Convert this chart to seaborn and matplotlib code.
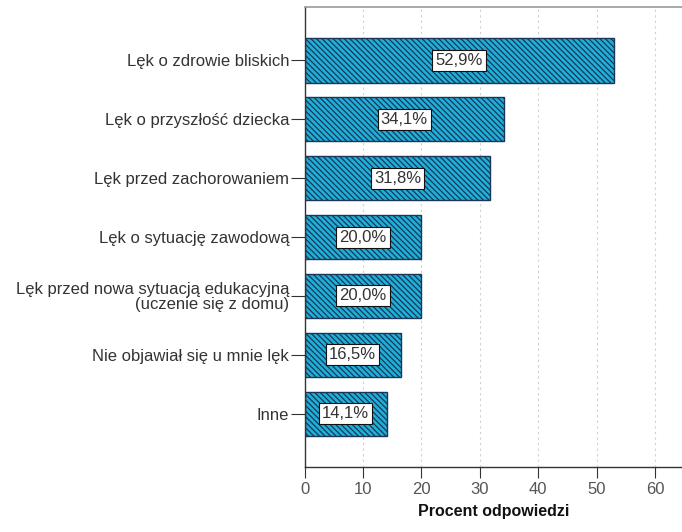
import matplotlib
matplotlib.use("Agg")
import matplotlib.pyplot as plt
import seaborn as sns
import pandas as pd

categories = [
    "Lęk o zdrowie bliskich",
    "Lęk o przyszłość dziecka",
    "Lęk przed zachorowaniem",
    "Lęk o sytuację zawodową",
    "Lęk przed nowa sytuacją edukacyjną\n(uczenie się z domu)",
    "Nie objawiał się u mnie lęk",
    "Inne",
]
values = [52.9, 34.1, 31.8, 20.0, 20.0, 16.5, 14.1]
value_labels = ["52,9%", "34,1%", "31,8%", "20,0%", "20,0%", "16,5%", "14,1%"]
x_ticks = [0, 10, 20, 30, 40, 50, 60]

sns.set_style("white")
plt.rcParams["font.family"] = ["Liberation Sans", "DejaVu Sans"]
plt.rcParams["hatch.color"] = "#1c3558"
plt.rcParams["hatch.linewidth"] = 0.9

df = pd.DataFrame({"kategoria": categories, "procent": values})

fig = plt.figure(figsize=(6.82, 5.32), dpi=100)
ax = fig.add_axes([0.4465, 0.1222, 0.5535, 0.8646])

sns.barplot(data=df, y="kategoria", x="procent", orient="h", ax=ax,
            color="#1fb0d8", width=0.76, edgecolor="#1c3558", linewidth=1.0,
            saturation=1)
for bar in ax.patches:
    bar.set_hatch("\\\\\\\\\\\\")
    bar.set_facecolor("#1fb0d8")

for i, (v, lab) in enumerate(zip(values, value_labels)):
    ax.text(v / 2, i, lab, ha="center", va="center", fontsize=12, color="#333333",
            bbox=dict(boxstyle="square,pad=0.18", facecolor="white",
                      edgecolor="#111111", linewidth=0.8))

ax.set_xlim(0, 64.6)
ax.set_ylim(6.9, -0.9)
ax.set_xticks(x_ticks)
ax.set_xticklabels([str(t) for t in x_ticks], color="#555555", fontsize=12)
for t in x_ticks[1:]:
    ax.axvline(t, color="#d0d0d0", linestyle=(0, (2, 3)), linewidth=0.8, zorder=0)

ax.set_ylabel("")
ax.set_xlabel("Procent odpowiedzi", fontsize=11.5, fontweight="bold", labelpad=5,
              color="#111111")
ax.tick_params(axis="y", length=10, width=0.8, color="#333333", labelsize=12,
               pad=1, left=True)
ax.tick_params(axis="x", length=8, width=0.8, color="#333333", pad=3, bottom=True)
for lab in ax.get_yticklabels():
    lab.set_multialignment("right")
    lab.set_color("#333333")
    lab.set_linespacing(0.95)

ax.spines["left"].set_color("#333333")
ax.spines["left"].set_linewidth(1.0)
ax.spines["bottom"].set_color("#333333")
ax.spines["bottom"].set_linewidth(1.0)
ax.spines["top"].set_color("#999999")
ax.spines["top"].set_linewidth(1.2)
ax.spines["right"].set_visible(False)
ax.set_axisbelow(True)

fig.savefig("out.png", dpi=100)
